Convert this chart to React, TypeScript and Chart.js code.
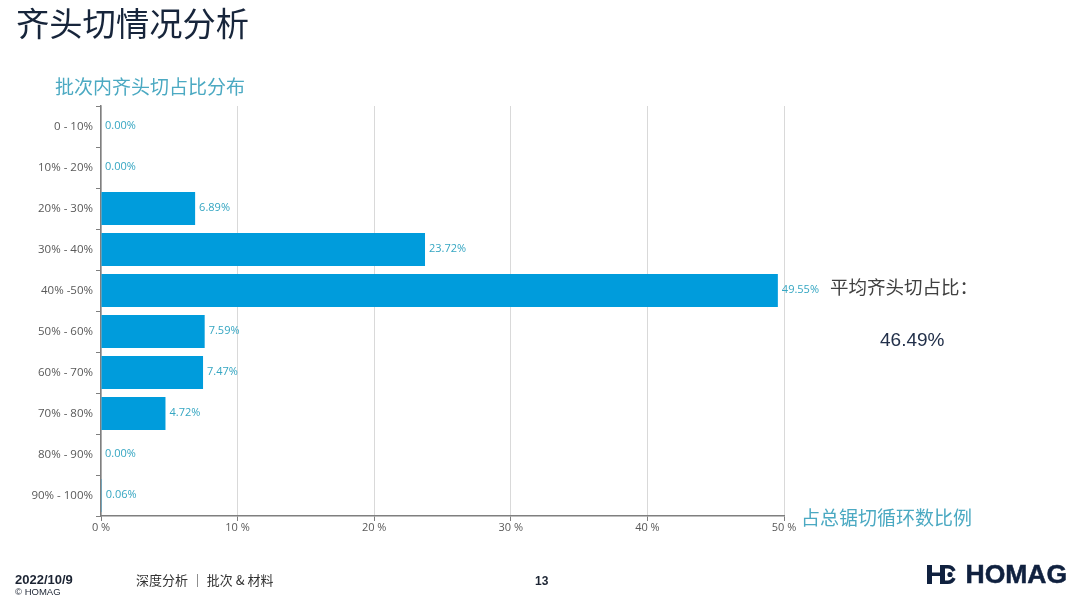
import React, { useEffect, useRef } from 'react';
import { Chart, registerables } from 'chart.js';

Chart.register(...registerables);

const categories = ['0 - 10%', '10% - 20%', '20% - 30%', '30% - 40%', '40% -50%', '50% - 60%', '60% - 70%', '70% - 80%', '80% - 90%', '90% - 100%'];
const shares = [0, 0, 6.89, 23.72, 49.55, 7.59, 7.47, 4.72, 0, 0.06];

const CJK = '"Noto Sans CJK SC", sans-serif';
const LATIN = '"Liberation Sans", Arial, sans-serif';
const TEAL = '#4ba9c2';
const NAVY = '#10213f';

// writes the percentage next to the end of each bar
const barLabels = {
	id: 'barLabels',
	afterDatasetsDraw(chart: Chart) {
		const { ctx } = chart;
		ctx.save();
		ctx.font = '11px "Open Sans"';
		ctx.fillStyle = '#35a6c2';
		ctx.textBaseline = 'middle';
		chart.getDatasetMeta(0).data.forEach((bar, index) => {
			ctx.fillText(`${shares[index].toFixed(2)}%`, bar.x + 4, bar.y - 0.5);
		});
		ctx.restore();
	},
};

const Label: React.FC<{ x: number; y: number; size: number; color: string; font?: string; bold?: boolean; children: React.ReactNode }> = ({
	x, y, size, color, font = CJK, bold = false, children,
}) => (
	<div style={{
		position: 'absolute', left: x, top: y, fontSize: size, lineHeight: `${size}px`, color,
		fontFamily: font, fontWeight: bold ? 700 : 400, whiteSpace: 'pre',
	}}>{children}</div>
);

export default function App() {
	const canvas = useRef<HTMLCanvasElement>(null!);

	useEffect(() => {
		const chart = new Chart(canvas.current, {
			type: 'bar',
			plugins: [barLabels],
			data: {
				labels: categories,
				datasets: [{
					data: shares,
					backgroundColor: '#009cdc',
					barPercentage: 0.8,
					categoryPercentage: 1,
				}],
			},
			options: {
				indexAxis: 'y',
				responsive: false,
				animation: false,
				layout: { padding: { top: 106, right: 296 } },
				plugins: { legend: { display: false }, tooltip: { enabled: false } },
				scales: {
					x: {
						min: 0,
						max: 50,
						afterFit: s => { s.height = 87; },
						border: { color: '#7f7f7f', width: 1.5 },
						grid: { color: '#d9d9d9', tickColor: '#7f7f7f', tickLength: 5, lineWidth: 1 },
						ticks: {
							stepSize: 10,
							maxRotation: 0,
							padding: 0,
							color: '#595959',
							font: { family: '"Open Sans"', size: 11 },
							callback: v => `${v} %`,
						},
					},
					y: {
						afterFit: s => { s.width = 101; },
						border: { color: '#7f7f7f', width: 1.5 },
						grid: { drawOnChartArea: false, offset: true, tickColor: '#7f7f7f', tickLength: 5 },
						ticks: {
							autoSkip: false,
							padding: 3,
							color: '#595959',
							font: { family: '"Open Sans"', size: 11.5 },
						},
					},
				},
			},
		});
		return () => chart.destroy();
	}, []);

	return <div style={{ position: 'absolute', left: 0, top: 0, width: 1080, height: 603, overflow: 'hidden', background: '#fff' }}>
		<canvas ref={canvas} width={1080} height={603} style={{ position: 'absolute', left: 0, top: 0 }} />
		<Label x={16} y={5} size={33.3} color="#17253b">齐头切情况分析</Label>
		<Label x={55} y={76} size={19} color={TEAL}>批次内齐头切占比分布</Label>
		<Label x={830} y={277} size={18.5} color="#404040">平均齐头切占比：</Label>
		<Label x={880} y={330} size={19} color="#22304a" font={LATIN}>46.49%</Label>
		<Label x={801} y={507} size={19} color={TEAL}>占总锯切循环数比例</Label>
		<Label x={15} y={573} size={13} color="#1c2433" font={LATIN} bold>2022/10/9</Label>
		<Label x={15} y={587} size={9.5} color="#1c2433" font={LATIN}>© HOMAG</Label>
		<Label x={136} y={573} size={13} color="#333333">深度分析 ｜ 批次 &amp; 材料</Label>
		<Label x={535} y={575} size={12} color="#1c2433" font={LATIN} bold>13</Label>
		<svg style={{ position: 'absolute', left: 926, top: 564 }} width={30} height={21} viewBox="0 0 30 21">
			<path d="M1 1h5v7.5h8V1h5v19h-5v-8H6V20H1z" fill={NAVY} />
			<path d="M18 2.8H21A7 7 0 0 1 28 7M18 18.2H21A7 7 0 0 0 28 14" fill="none" stroke={NAVY} strokeWidth={3.6} />
			<circle cx={24} cy={10.5} r={2.6} fill={NAVY} />
		</svg>
		<div style={{ position: 'absolute', left: 965.5, top: 561, fontSize: 26.5, lineHeight: '27px', color: NAVY, fontFamily: LATIN, fontWeight: 700, WebkitTextStroke: `0.5px ${NAVY}` }}>HOMAG</div>
	</div>;
}
